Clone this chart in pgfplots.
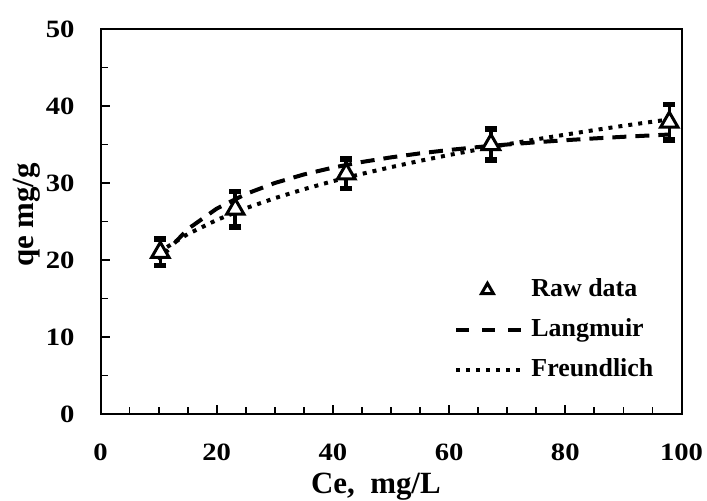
\documentclass[border=0pt]{standalone}
\usepackage{fontspec}
\setmainfont{Liberation Serif}
\newfontfamily\tickfont{Liberation Serif}[FakeStretch=1.15]
\usepackage{pgfplots}
\pgfplotsset{compat=1.18}
\pgfplotsset{
  lineleg/.style={legend image code/.code={\draw[##1] (0bp,0bp) -- (32.5bp,0bp);}},
  dashleg/.style={legend image code/.code={\draw[##1, dash pattern=on 6.5bp off 6.5bp] (0bp,0bp) -- (32.5bp,0bp);}},
  markleg/.style={legend image code/.code={\draw[mark repeat=2, mark phase=2, ##1, mark size=3.4bp]
    plot coordinates {(0bp,0bp) (15.5bp,0bp) (32.5bp,0bp)};}},
}

\begin{document}
\begin{tikzpicture}
\useasboundingbox (0,0) rectangle (353.5bp,250.5bp);
\begin{axis}[
  at={(50.25bp,43.5bp)}, anchor=south west,
  scale only axis, width=290.5bp, height=192.5bp,
  xmin=0, xmax=100, ymin=0, ymax=50,
  xtick={0,20,...,100}, ytick={0,10,...,50},
  minor xtick={5,10,...,95}, minor ytick={5,15,...,45},
  tick pos=left, tick align=inside,
  major tick length=4.5bp, minor tick length=3.5bp,
  every tick/.style={black, line width=0.9bp},
  axis line style={line width=1bp},
  /pgf/number format/assume math mode=true,
  tick label style={font=\tickfont\fontsize{12.5}{15}\selectfont\bfseries},
  xticklabel style={yshift=-11.3bp},
  yticklabel style={xshift=-9.5bp},
  xlabel={Ce,\ \ mg/L}, ylabel={qe mg/g},
  label style={font=\fontsize{15.5}{18}\selectfont\bfseries},
  xlabel style={at={(rel axis cs:0.474,0)}, anchor=base, yshift=-39.5bp},
  ylabel style={at={(rel axis cs:-0.1153,0.517)}, anchor=base},
  legend style={at={(rel axis cs:0.6085,0.354)}, anchor=north west, draw=none, fill=none,
    inner sep=0pt, font=\fontsize{13}{15}\selectfont\bfseries, row sep=8bp,
    nodes={inner xsep=4bp, inner ysep=0pt, text height=9bp, text depth=3bp}},
  legend cell align=left,
]
\addplot[only marks, mark=triangle*, mark size=5bp,
  mark options={fill=white, draw=black, line width=1.5bp}, markleg,
  error bars/.cd, y dir=both, y explicit,
  error bar style={line width=1.8bp, black},
  error mark options={rotate=90, line width=2.8bp, mark size=3bp, black}]
  coordinates {
  (10.3,21.0) +- (0,1.7)
  (23.2,26.6) +- (0,2.3)
  (42.3,31.2) +- (0,1.9)
  (67.2,35.0) +- (0,2.0)
  (97.9,37.9) +- (0,2.3)
};
\addlegendentry{Raw data}
\addplot[black, line width=2bp, dash pattern=on 7bp off 4.5bp, dashleg]
  coordinates {
  (10,20.00) (15,24.00) (20,26.67) (25,28.57) (30,30.00) (35,31.11)
  (40,32.00) (45,32.73) (50,33.33) (55,33.85) (60,34.29) (65,34.67)
  (70,35.00) (75,35.29) (80,35.56) (85,35.79) (90,36.00) (95,36.19)
  (98,36.30)
};
\addlegendentry{Langmuir}
\addplot[black, line width=2bp, dash pattern=on 2bp off 3bp, lineleg]
  coordinates {
  (10,21.00) (15,23.36) (20,25.20) (25,26.72) (30,28.03) (35,29.19)
  (40,30.24) (45,31.19) (50,32.06) (55,32.88) (60,33.64) (65,34.35)
  (70,35.03) (75,35.67) (80,36.28) (85,36.87) (90,37.43) (95,37.96)
  (98,38.27)
};
\addlegendentry{Freundlich}
\end{axis}
\end{tikzpicture}
\end{document}
